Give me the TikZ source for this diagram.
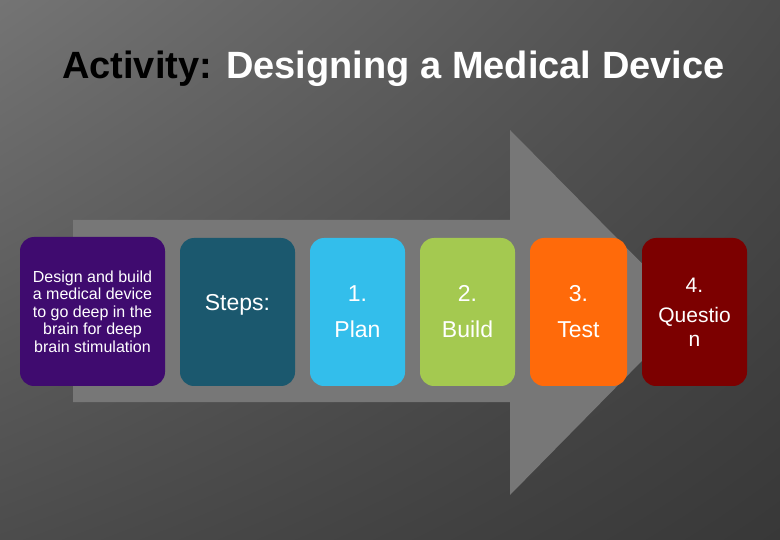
\documentclass[tikz,border=0pt]{standalone}
\usepackage{fontspec}
\setmainfont{Liberation Sans}
\usetikzlibrary{shadings}
\begin{document}
\begin{tikzpicture}[x=1pt,y=-1pt,
  stepbox/.style={rounded corners=14pt,inner sep=0pt,text=white,align=center},
  small/.style={font=\fontsize{16}{17.5}\selectfont},
  big/.style={font=\fontsize{23}{36}\selectfont}]
\definecolor{bgA}{HTML}{747474}
\definecolor{bgM}{HTML}{4C4C4C}
\definecolor{bgB}{HTML}{383838}
\definecolor{arr}{HTML}{777777}
\definecolor{cpurple}{HTML}{3F0B6F}
\definecolor{cteal}{HTML}{1B586E}
\definecolor{cblue}{HTML}{33BEEB}
\definecolor{cgreen}{HTML}{A4C950}
\definecolor{corange}{HTML}{FF6A0A}
\definecolor{cred}{HTML}{7C0000}
\useasboundingbox (0,0) rectangle (780,540);
\shade[upper left=bgA,upper right=bgM,lower left=bgM,lower right=bgB] (0,0) rectangle (780,540);
\fill[arr] (73,220) -- (510,220) -- (510,130) -- (690,312) -- (510,495) -- (510,402) -- (73,402) -- cycle;
\node[anchor=base west,font=\fontsize{38}{40}\selectfont\bfseries,inner sep=0pt] (title) at (62,79) {Activity: \textcolor{white}{Designing a Medical Device}};
\node[stepbox,small,fill=cpurple,minimum width=145pt,minimum height=149pt] (desc) at (92.5,311.5) {Design and build\\a medical device\\to go deep in the\\brain for deep\\brain stimulation};
\node[stepbox,fill=cteal,minimum width=115pt,minimum height=148pt] (steps) at (237.5,312) {};
\node[font=\fontsize{23}{28}\selectfont,text=white] (stepslabel) at (237.5,305) {Steps:};
\node[stepbox,big,fill=cblue,minimum width=95pt,minimum height=148pt] (plan) at (357.5,312) {1.\\Plan};
\node[stepbox,big,fill=cgreen,minimum width=95pt,minimum height=148pt] (build) at (467.5,312) {2.\\Build};
\node[stepbox,big,fill=corange,minimum width=97pt,minimum height=148pt] (test) at (578.5,312) {3.\\Test};
\node[stepbox,font=\fontsize{21}{24}\selectfont,fill=cred,minimum width=105pt,minimum height=148pt] (quest) at (694.5,312) {4.\\[6pt]Questio\\n};
\end{tikzpicture}
\end{document}
